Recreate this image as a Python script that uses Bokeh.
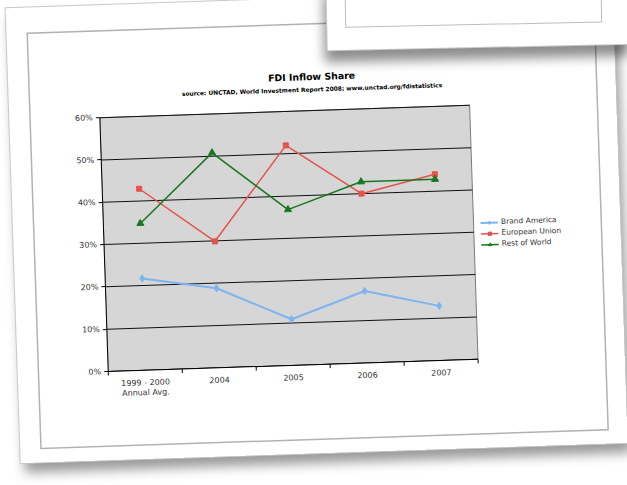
from bokeh.plotting import figure
from bokeh.models import (Range1d, FixedTicker, PrintfTickFormatter, Legend, LegendItem,
                          Label, Div, GlobalInlineStyleSheet)
from bokeh.embed import file_html
from bokeh.resources import INLINE

# FDI inflow share by region (% of world total)
categories = ["1999 - 2000\nAnnual Avg.", "2004", "2005", "2006", "2007"]
brand_america = [21.7, 18.8, 10.9, 17.0, 12.9]
european_union = [42.9, 29.9, 52.0, 40.0, 44.0]
rest_of_world = [34.7, 50.8, 36.8, 42.8, 42.8]
y_ticks = [0, 10, 20, 30, 40, 50, 60]

FONT = "DejaVu Sans"
n = len(categories)
x = [i + 0.5 for i in range(n)]
bounds = list(range(n + 1))
y_max = y_ticks[-1]

# plot area is 370 x 254 px; the frame also spans the blank paper to the
# right (legend) and above (titles)
PLOT_W, PLOT_H, EXTRA_R, EXTRA_T = 370, 254, 147, 45
x_end = n * (PLOT_W + EXTRA_R) / PLOT_W
y_end = y_max * (PLOT_H + EXTRA_T) / PLOT_H

p = figure(frame_width=PLOT_W + EXTRA_R, frame_height=PLOT_H + EXTRA_T,
           x_range=Range1d(0, x_end), y_range=Range1d(0, y_end),
           output_backend="svg", toolbar_location=None, title=None,
           min_border_left=90, min_border_right=0,
           min_border_top=67, min_border_bottom=89)

# canvas left transparent so the paper (host element) shows through
p.background_fill_alpha = 0
p.border_fill_alpha = 0
p.outline_line_color = None
p.xgrid.visible = False
p.ygrid.visible = False

# grey plot area and its horizontal gridlines
p.quad(left=0, right=n, bottom=0, top=y_max, fill_color="#d6d6d6",
       line_color="#7a7a7a", line_width=1)
p.segment(x0=[0] * len(y_ticks), x1=[n] * len(y_ticks), y0=y_ticks, y1=y_ticks,
          line_color="#111111", line_width=1)

# category axis: labels centred in each slot, ticks on slot boundaries
p.xaxis.bounds = (0, n)
p.xaxis.ticker = FixedTicker(ticks=x, minor_ticks=bounds)
p.xaxis.major_label_overrides = {xi: c for xi, c in zip(x, categories)}
p.xaxis.major_tick_line_color = None
p.xaxis.minor_tick_in = 0
p.xaxis.minor_tick_out = 4
p.xaxis.minor_tick_line_color = "black"
p.xaxis.major_label_standoff = 2

p.yaxis.bounds = (0, y_max)
p.yaxis.ticker = FixedTicker(ticks=y_ticks)
p.yaxis.formatter = PrintfTickFormatter(format="%d%%")
p.yaxis.minor_tick_line_color = None
p.yaxis.major_tick_in = 0
p.yaxis.major_tick_out = 4
p.yaxis.major_label_standoff = 3

for ax in (p.xaxis, p.yaxis):
    ax.axis_line_color = "black"
    ax.axis_line_width = 1
    ax.major_label_text_font = FONT
    ax.major_label_text_font_size = "8px"
    ax.major_label_text_color = "#333333"
    ax.major_label_text_line_height = 1.1

BLUE, RED, GREEN = "#7db5ef", "#e5524c", "#18781f"

l_ba = p.line(x, brand_america, line_color=BLUE, line_width=2)
m_ba = p.scatter(x, brand_america, marker="diamond", size=7, color=BLUE)
l_eu = p.line(x, european_union, line_color=RED, line_width=1.5)
m_eu = p.scatter(x, european_union, marker="square", size=5, color=RED)
l_rw = p.line(x, rest_of_world, line_color=GREEN, line_width=1.5)
m_rw = p.scatter(x, rest_of_world, marker="triangle", size=7, color=GREEN)

legend = Legend(items=[LegendItem(label="Brand America", renderers=[l_ba, m_ba]),
                       LegendItem(label="European Union", renderers=[l_eu, m_eu]),
                       LegendItem(label="Rest of World", renderers=[l_rw, m_rw])],
                location=(PLOT_W + 7, 110), padding=0, margin=0, spacing=2,
                glyph_width=18, glyph_height=8, label_height=8, label_standoff=3,
                label_text_font=FONT, label_text_font_size="7.5px",
                label_text_color="#333333",
                border_line_color=None, background_fill_alpha=0)
p.add_layout(legend)

p.add_layout(Label(x=213, y=PLOT_H + 34, x_units="screen", y_units="screen",
                   text="FDI Inflow Share", text_align="center", text_baseline="middle",
                   text_font=FONT, text_font_style="bold", text_font_size="9.4px",
                   text_color="black"))
p.add_layout(Label(x=213, y=PLOT_H + 21, x_units="screen", y_units="screen",
                   text="source: UNCTAD, World Investment Report 2008; www.unctad.org/fdistatistics",
                   text_align="center", text_baseline="middle",
                   text_font=FONT, text_font_style="bold", text_font_size="5.9px",
                   text_color="black"))

# the sheet the chart is printed on, with a thin frame ruled inside it
p.styles = {
    "position": "absolute", "left": "13px", "top": "-2px",
    "transform": "rotate(-1.9deg)",
    "background": "white",
    "box-shadow": ("inset 1px 6px 0 19px white, inset 1px 6px 0 20.5px #b2b2b2, "
                   "0 0 0 1px #c9c9c9, 4px 10px 12px rgba(0,0,0,0.40)"),
    "z-index": "1",
}
p.stylesheets = [GlobalInlineStyleSheet(
    css="html, body { margin: 0; padding: 0; overflow: hidden; background: white; }")]

# a second sheet lying on top, upper right
sheet = Div(text='<div style="position:absolute;left:18px;top:-12px;right:30px;'
                 'bottom:22px;border:1px solid #bdbdbd;"></div>',
            width=305, height=67,
            styles={"position": "absolute", "left": "322px", "top": "-25px",
                    "background": "white",
                    "box-shadow": "0 0 0 1px #c8c8c8, -3px 12px 12px rgba(0,0,0,0.45)",
                    "transform": "rotate(-1.2deg)", "z-index": "3"})

open("out.html", "w").write(file_html([p, sheet], INLINE))
